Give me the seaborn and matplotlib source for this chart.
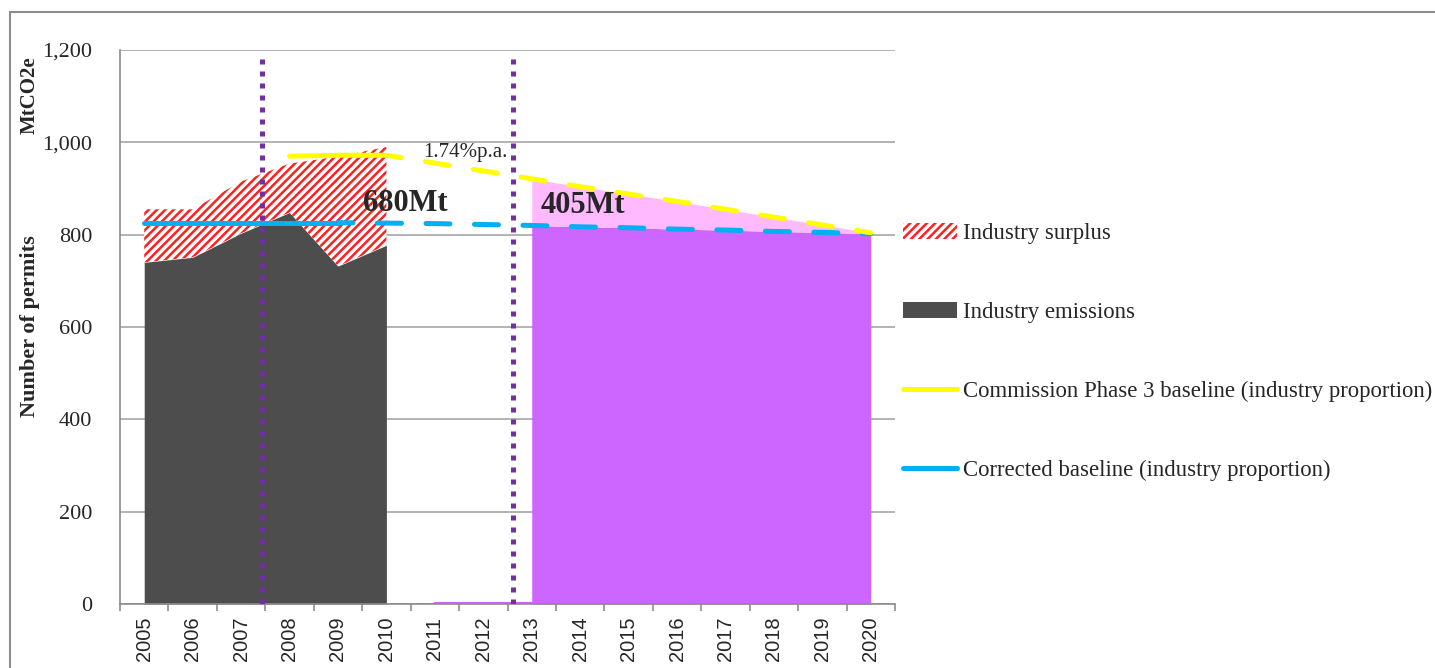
import matplotlib
matplotlib.use("Agg")
import matplotlib.pyplot as plt
import matplotlib.patches as mpatches
from matplotlib.lines import Line2D
from matplotlib.ticker import FuncFormatter, FixedLocator
import pandas as pd
import seaborn as sns

# Phase 1/2 industry data (2005-2010)
hist_years = [2005, 2006, 2007, 2008, 2009, 2010]
emissions = [740, 751, 803, 848, 732, 777]
allocation = [855, 855, 915, 954, 969, 990]

# Commission Phase 3 baseline (2008-2020)
comm_years = list(range(2008, 2021))
comm_baseline = [970, 972, 972, 955, 938, 921, 904, 888, 872, 855, 838, 821, 804]

# Corrected baseline (2005-2020)
corr_years = list(range(2005, 2021))
corr_baseline = [826, 826, 826, 826, 826, 825, 824, 822, 820, 817, 815, 812, 810, 807, 805, 802]

# Phase 3 areas (2013-2020)
p3_years = list(range(2013, 2021))
p3_upper = comm_baseline[5:]
p3_lower = corr_baseline[8:]

# zero line of the phase 3 series in the gap years
gap_years = [2011, 2012, 2013]
gap_values = [0, 0, 0]

phase_breaks = [2007.44, 2012.62]
tick_years = list(range(2005, 2021))

sns.set_theme(style="white")
plt.rcParams["font.family"] = ["Liberation Serif", "DejaVu Serif"]
plt.rcParams["hatch.linewidth"] = 1.8

fig = plt.figure(figsize=(14.35, 6.68), dpi=100)
ax = fig.add_axes([120 / 1435, 1 - 604 / 668, 775 / 1435, 554 / 668])

GREY = "#4d4d4d"
PINK = "#ffb9ff"
PURPLE = "#cc66ff"
YELLOW = "#ffff00"
BLUE = "#00b0f0"
DOT = "#7030a0"

# areas
ax.fill_between(hist_years, 0, emissions, facecolor=GREY, lw=0, zorder=1)
ax.fill_between(hist_years, emissions, allocation, facecolor="white",
                edgecolor="#ff2020", hatch="////", lw=0, zorder=1)
ax.fill_between(p3_years, 0, p3_lower, facecolor=PURPLE, lw=0, zorder=1)
ax.fill_between(p3_years, p3_lower, p3_upper, facecolor=PINK, lw=0, zorder=1)

df_gap = pd.DataFrame({"year": gap_years, "v": gap_values})
sns.lineplot(data=df_gap, x="year", y="v", ax=ax, color=PURPLE, lw=3, zorder=2)

# baselines: solid for the first part, dashed afterwards
dash = (1.8, (4.8, 4.9))
df_corr = pd.DataFrame({"year": corr_years, "v": corr_baseline})
sns.lineplot(data=df_corr[df_corr.year <= 2009], x="year", y="v", ax=ax,
             color=BLUE, lw=3.6, solid_capstyle="round", zorder=3)
sns.lineplot(data=df_corr[df_corr.year >= 2009], x="year", y="v", ax=ax,
             color=BLUE, lw=3.6, linestyle=dash, dash_capstyle="round", zorder=3)

df_comm = pd.DataFrame({"year": comm_years, "v": comm_baseline})
sns.lineplot(data=df_comm[df_comm.year <= 2010], x="year", y="v", ax=ax,
             color=YELLOW, lw=3.6, solid_capstyle="round", zorder=3)
sns.lineplot(data=df_comm[df_comm.year >= 2010], x="year", y="v", ax=ax,
             color=YELLOW, lw=3.6, linestyle=dash, dash_capstyle="round", zorder=3)

for xb in phase_breaks:
    ax.axvline(xb, ymin=0, ymax=1183 / 1200, color=DOT, lw=3.6,
               linestyle=(0, (1, 1.4)), dash_capstyle="butt", zorder=4)

# annotations
ax.text(2010.38, 868, "680Mt", fontsize=22, fontweight="bold", ha="center", va="center", zorder=5)
ax.text(2014.06, 864, "405Mt", fontsize=22, fontweight="bold", ha="center", va="center", zorder=5)
ax.text(2011.64, 977, "1.74%p.a.", fontsize=15, ha="center", va="center", zorder=5)

# axes
ax.set_xlim(2004.5, 2020.5)
ax.set_ylim(0, 1200)
ax.set_yticks(range(0, 1201, 200))
ax.yaxis.set_major_formatter(FuncFormatter(lambda v, p: f"{int(v):,}"))
ax.set_xticks(tick_years)
ax.set_xticklabels([str(y) for y in tick_years], rotation=90,
                   fontfamily=["Liberation Sans", "DejaVu Sans"], fontsize=14.5)
ax.xaxis.set_minor_locator(FixedLocator([y - 0.5 for y in tick_years] + [2020.5]))
ax.tick_params(axis="x", which="major", length=0, pad=9)
ax.tick_params(axis="x", which="minor", length=5, width=1.2, color="#8c8c8c", direction="out", bottom=True)
ax.tick_params(axis="y", length=0, pad=20, labelsize=16)
ax.set_xlabel("")
ax.set_ylabel("")
ax.yaxis.grid(True, color="#a6a6a6", lw=1.2)
ax.set_axisbelow(True)
for s in ["top", "right"]:
    ax.spines[s].set_visible(False)
for s in ["left", "bottom"]:
    ax.spines[s].set_color("#8c8c8c")
    ax.spines[s].set_linewidth(1.2)

fig.text(30 / 1435, 1 - 326 / 668, "Number of permits", rotation=90, fontsize=16,
         fontweight="bold", ha="center", va="center")
fig.text(30 / 1435, 1 - 95 / 668, "MtCO2e", rotation=90, fontsize=15,
         fontweight="bold", ha="center", va="center")

# outer frame
fig.patches.append(mpatches.Rectangle((10 / 1435, -0.1), 1.2, 1.1 - 12 / 668,
                                      transform=fig.transFigure, fill=False,
                                      edgecolor="#8c8c8c", lw=1.5))

handles = [
    mpatches.Patch(facecolor="white", edgecolor="#ff2020", hatch="////", lw=0),
    mpatches.Patch(facecolor=GREY, lw=0),
    Line2D([], [], color=YELLOW, lw=3.6, solid_capstyle="round"),
    Line2D([], [], color=BLUE, lw=3.6, solid_capstyle="round"),
]
labels = ["Industry surplus", "Industry emissions",
          "Commission Phase 3 baseline (industry proportion)",
          "Corrected baseline (industry proportion)"]
fig.legend(handles, labels, loc="center left", bbox_to_anchor=(903 / 1435, 1 - 352 / 668),
           frameon=False, fontsize=16.4, handlelength=2.35, handletextpad=0.3,
           labelspacing=2.55, borderpad=0, borderaxespad=0)

fig.savefig("out.png", dpi=100)
